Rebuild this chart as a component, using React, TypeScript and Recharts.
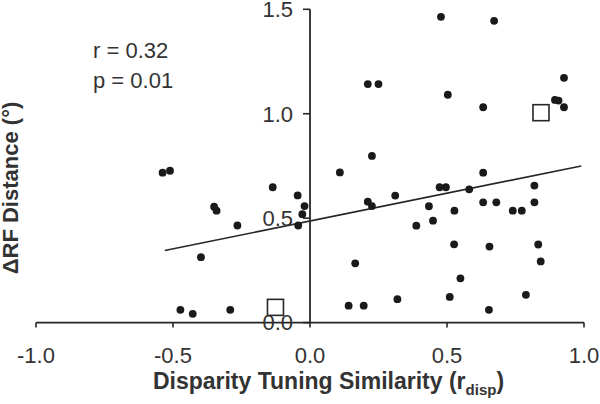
import { ReferenceLine, Scatter, ScatterChart, XAxis, YAxis } from "recharts";

// values (x = disparity tuning similarity, y = RF distance in deg)
const similarity = [
  -0.538, -0.511, -0.35, -0.341, -0.265, -0.398, -0.473, -0.428, -0.291, -0.136, -0.045, -0.02, -0.028, -0.043,
  0.109, 0.226, 0.211, 0.226, 0.165, 0.141, 0.196, 0.211, 0.25, 0.311, 0.478, 0.503, 0.632, 0.672, 0.927, 0.894,
  0.907, 0.927, 0.434, 0.449, 0.388, 0.473, 0.496, 0.581, 0.632, 0.632, 0.527, 0.526, 0.655, 0.549, 0.51, 0.319,
  0.653, 0.68, 0.74, 0.773, 0.819, 0.819, 0.833, 0.842, 0.788,
];
const rfDistance = [
  0.718, 0.727, 0.555, 0.536, 0.465, 0.313, 0.061, 0.042, 0.061, 0.648, 0.609, 0.558, 0.519, 0.465, 0.719, 0.798,
  0.579, 0.558, 0.284, 0.081, 0.081, 1.142, 1.142, 0.608, 1.464, 1.091, 1.031, 1.445, 1.172, 1.066, 1.063, 1.031,
  0.557, 0.488, 0.464, 0.648, 0.648, 0.638, 0.718, 0.576, 0.536, 0.375, 0.364, 0.212, 0.123, 0.112, 0.061, 0.576,
  0.536, 0.536, 0.656, 0.576, 0.374, 0.293, 0.133,
];
const openSimilarity = [-0.126, 0.843];
const openDistance = [0.073, 1.005];
const fitSimilarity = [-0.53, 0.99];
const fitDistance = [0.345, 0.75];
const xTicks = [-1, -0.5, 0, 0.5, 1];
const yTicks = [0, 0.5, 1, 1.5];
const statLines = ["r = 0.32", "p = 0.01"];

const ink = "#262626";
const textColor = "#333333";
const font = "'Liberation Sans', Arial, Helvetica, sans-serif";

const cells = similarity.map((x, i) => ({ x, y: rfDistance[i] }));
const openCells = openSimilarity.map((x, i) => ({ x, y: openDistance[i] }));

const Dot = (props: any) => <circle cx={props.cx} cy={props.cy} r={3.9} fill="#1a1a1a" />;
const Square = (props: any) => (
  <rect x={props.cx - 8} y={props.cy - 8} width={16} height={16} fill="#ffffff" stroke={ink} strokeWidth={1.6} />
);

export default function App() {
  return (
    <div style={{ width: 600, height: 404, background: "#fff", fontFamily: font }}>
      <style>{`body{margin:0}`}</style>
      <ScatterChart width={600} height={404} margin={{ top: 9.3, right: 16, bottom: 0, left: 36 }}>
        <XAxis
          type="number"
          dataKey="x"
          domain={[-1, 1]}
          ticks={xTicks}
          interval={0}
          tickFormatter={(v: number) => v.toFixed(1)}
          height={81.4}
          axisLine={{ stroke: ink, strokeWidth: 1.8 }}
          tickLine={{ stroke: ink, strokeWidth: 1.6 }}
          tickSize={5}
          tickMargin={20}
          tick={{ fill: textColor, fontSize: 22, fontFamily: font }}
        />
        <YAxis type="number" dataKey="y" domain={[0, 1.5]} hide />
        <ReferenceLine
          segment={[
            { x: 0, y: 0 },
            { x: 0, y: 1.5 },
          ]}
          stroke={ink}
          strokeWidth={1.8}
        />
        {yTicks.map((t) => (
          <ReferenceLine
            key={`yt-${t}`}
            segment={[
              { x: -0.0255, y: t },
              { x: 0, y: t },
            ]}
            stroke={ink}
            strokeWidth={1.6}
            label={{ value: t.toFixed(1), position: "left", offset: 10, fill: textColor, fontSize: 22, fontFamily: font }}
          />
        ))}
        <ReferenceLine
          segment={[
            { x: fitSimilarity[0], y: fitDistance[0] },
            { x: fitSimilarity[1], y: fitDistance[1] },
          ]}
          stroke={ink}
          strokeWidth={1.6}
        />
        <Scatter data={cells} shape={Dot} isAnimationActive={false} />
        <Scatter data={openCells} shape={Square} isAnimationActive={false} />
        {statLines.map((s, i) => (
          <text key={s} x={93} y={58 + i * 30} fill={textColor} fontSize={22} fontFamily={font}>
            {s}
          </text>
        ))}
        <text x={328.5} y={389} textAnchor="middle" fill={textColor} fontSize={23} fontWeight="bold" fontFamily={font}>
          Disparity Tuning Similarity (r
          <tspan fontSize={15} dy={6}>
            disp
          </tspan>
          <tspan dy={-6}>)</tspan>
        </text>
        <text
          x={18}
          y={188}
          transform="rotate(-90, 18, 188)"
          textAnchor="middle"
          fill={textColor}
          fontSize={22}
          fontWeight="bold"
          fontFamily={font}
        >
          ΔRF Distance (°)
        </text>
      </ScatterChart>
    </div>
  );
}
